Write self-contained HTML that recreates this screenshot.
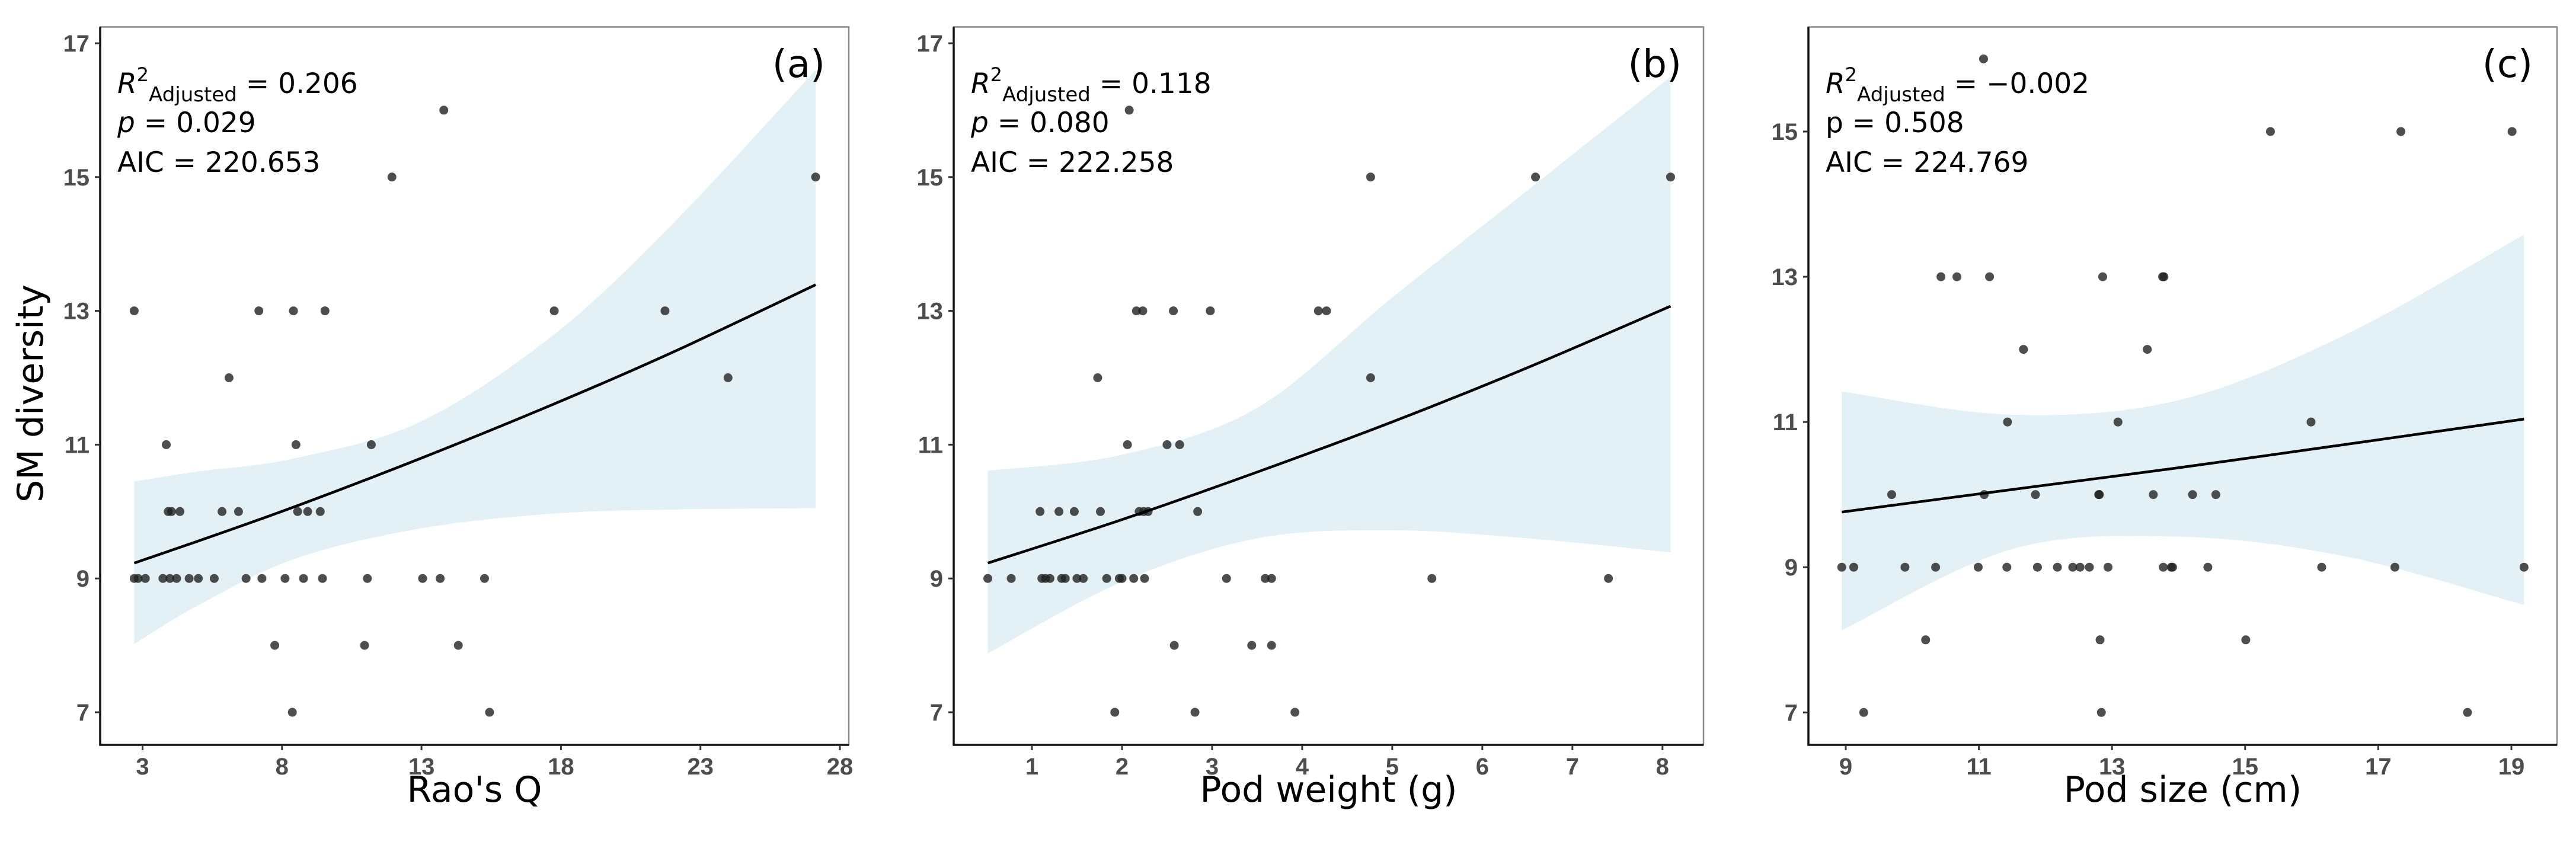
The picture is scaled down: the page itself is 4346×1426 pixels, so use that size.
<!DOCTYPE html>
<html><head><meta charset="utf-8"><style>
html,body{margin:0;padding:0;background:#fff}
svg{display:block}
.tick{font-family:"Liberation Sans",sans-serif;font-weight:bold;font-size:40px;fill:#4d4d4d}
.ttl{font-family:"DejaVu Sans",sans-serif;font-size:60px;fill:#000}
.ann{font-family:"DejaVu Sans",sans-serif;font-size:47px;fill:#000}
.lab{font-family:"DejaVu Sans",sans-serif;font-size:64px;fill:#000}
</style></head><body>
<svg id="fig" width="4346" height="1426" viewBox="0 0 4346 1426" xmlns="http://www.w3.org/2000/svg"></svg>
<script>
// ---- Panel (a) data ----
const aX=[2.7,7.17,8.41,9.54,17.76,21.73,13.8,11.94,27.13,6.1,23.99,3.85,8.5,11.2,3.92,4.04,4.34,5.85,6.44,8.56,8.92,9.37,2.7,2.84,3.1,3.73,3.98,4.22,4.67,5.0,5.57,6.71,7.28,8.11,8.77,9.45,11.06,13.04,13.67,15.26,7.74,10.96,14.32,8.37,15.44];
const aY=[13,13,13,13,13,13,16,15,15,12,12,11,11,11,10,10,10,10,10,10,10,10,9,9,9,9,9,9,9,9,9,9,9,9,9,9,9,9,9,9,8,8,8,7,7];
const aFitX=[2.7,5,8.5,13,17.76,22,27.13];
const aFitY=[9.23,9.56,10.08,10.80,11.61,12.38,13.39];
const aUp=[10.45,10.6,10.8,11.35,12.65,14.3,16.6];
const aLo=[8.02,8.6,9.3,9.75,9.97,10.03,10.05];
const aXTicks=[3,8,13,18,23,28];
const aYTicks=[7,9,11,13,15,17];
// ---- Panel (b) data ----
const bX=[2.08,4.76,6.59,8.09,2.16,2.23,2.57,2.98,4.18,4.27,1.73,4.76,2.06,2.5,2.64,1.09,1.30,1.47,1.76,2.19,2.24,2.29,2.84,0.51,0.77,1.11,1.15,1.2,1.33,1.37,1.5,1.57,1.83,1.97,2.0,2.13,2.25,3.16,3.59,3.66,5.44,7.40,2.58,3.44,3.66,1.92,2.81,3.92];
const bY=[16,15,15,15,13,13,13,13,13,13,12,12,11,11,11,10,10,10,10,10,10,10,10,9,9,9,9,9,9,9,9,9,9,9,9,9,9,9,9,9,9,9,8,8,8,7,7,7];
const bFitX=[0.51,2,3.5,5,6.5,8.09];
const bFitY=[9.23,9.88,10.59,11.34,12.15,13.07];
const bUp=[10.61,10.85,11.55,13.2,14.8,16.5];
const bLo=[7.88,8.95,9.6,9.72,9.6,9.39];
const bXTicks=[1,2,3,4,5,6,7,8];
const bYTicks=[7,9,11,13,15,17];
// ---- Panel (c) data ----
const cX=[11.07,15.38,17.34,19.01,10.43,10.67,11.16,12.86,13.76,13.78,11.67,13.53,11.43,13.09,15.99,9.69,11.08,11.85,12.8,12.81,13.62,14.21,14.56,8.94,9.12,9.89,10.35,10.99,11.42,11.88,12.18,12.41,12.52,12.66,12.94,13.77,13.89,13.91,14.44,16.15,17.25,19.19,10.2,12.82,15.01,9.27,12.84,18.34];
const cY=[16,15,15,15,13,13,13,13,13,13,12,12,11,11,11,10,10,10,10,10,10,10,10,9,9,9,9,9,9,9,9,9,9,9,9,9,9,9,9,9,9,9,8,8,8,7,7,7];
const cFitX=[8.94,11.5,14,16.5,19.19];
const cFitY=[9.76,10.07,10.37,10.69,11.04];
const cUp=[11.42,11.1,11.3,12.2,13.58];
const cLo=[8.13,9.25,9.42,9.15,8.48];
const cXTicks=[9,11,13,15,17,19];
const cYTicks=[7,9,11,13,15];

const NS="http://www.w3.org/2000/svg";
const svg=document.getElementById('fig');
function mk(tag,attrs,parent,txt){const e=document.createElementNS(NS,tag);for(const k in attrs)e.setAttribute(k,attrs[k]);if(txt!==undefined)e.textContent=txt;(parent||svg).appendChild(e);return e;}
function smooth(pts,start){
  let d=(start?'M':'L')+pts[0][0]+','+pts[0][1];
  for(let i=0;i<pts.length-1;i++){
    const p0=pts[Math.max(i-1,0)],p1=pts[i],p2=pts[i+1],p3=pts[Math.min(i+2,pts.length-1)];
    const c1=[p1[0]+(p2[0]-p0[0])/6,p1[1]+(p2[1]-p0[1])/6];
    const c2=[p2[0]-(p3[0]-p1[0])/6,p2[1]-(p3[1]-p1[1])/6];
    d+=' C'+c1[0]+','+c1[1]+' '+c2[0]+','+c2[1]+' '+p2[0]+','+p2[1];
  }
  return d;
}
function panel(cfg){
  const g=mk('g',{});
  
  
  const sx=v=>cfg.x0+(v-cfg.xv0)*cfg.xs;
  const sy=v=>cfg.y0-(v-cfg.yv0)*cfg.ys;
  const L=cfg.L,R=cfg.R,T=45.5,B=1257;
  const upP=cfg.fx.map((v,i)=>[sx(v),sy(cfg.up[i])]);
  const loP=cfg.fx.map((v,i)=>[sx(v),sy(cfg.lo[i])]).reverse();
  const band=mk('path',{d:smooth(upP,true)+' '+smooth(loP,false)+'Z',fill:'#e3f1f6'},g);
  
  
  cfg.px.forEach((v,i)=>{
    const c=mk('circle',{cx:sx(v),cy:sy(cfg.py[i]),r:7.5,fill:'#222','fill-opacity':0.8},g);
    
    
  });
  const ln=mk('path',{d:smooth(cfg.fx.map((v,i)=>[sx(v),sy(cfg.fy[i])]),true),fill:'none',stroke:'#000','stroke-width':4.5},g);
  
  
  mk('rect',{x:L,y:T,width:R-L,height:B-T,fill:'none',stroke:'#888','stroke-width':2.5},g);
  mk('path',{d:`M${L},${T} L${L},${B} L${R},${B}`,fill:'none',stroke:'#111','stroke-width':3.5},g);
  cfg.xt.forEach(v=>{
    mk('line',{x1:sx(v),x2:sx(v),y1:B,y2:B+9,stroke:'#333','stroke-width':3},g);
    const t=mk('text',{x:sx(v),y:1307,'text-anchor':'middle',class:'tick'},g,String(v));
    
    
  });
  cfg.yt.forEach(v=>{
    mk('line',{x1:L-9,x2:L,y1:sy(v),y2:sy(v),stroke:'#333','stroke-width':3},g);
    const t=mk('text',{x:L-18,y:sy(v)+14,'text-anchor':'end',class:'tick'},g,String(v));
    
    
  });
  const xt=mk('text',{x:(L+R)/2,y:1353,'text-anchor':'middle',class:'ttl'},g,cfg.xtitle);
  
  
  const lb=mk('text',{x:cfg.labX,y:130,'text-anchor':'end',class:'lab'},g,cfg.label);
  
  
  const ann=mk('g',{},g);
  
  
  const t1=mk('text',{x:L+29,y:157,class:'ann'},ann);
  mk('tspan',{'font-style':'italic'},t1,'R');
  mk('tspan',{dy:-20,'font-size':'32'},t1,'2');
  mk('tspan',{dy:34,'font-size':'34'},t1,'Adjusted');
  mk('tspan',{dy:-14},t1,' = '+cfg.r2);
  const t2=mk('text',{x:L+29,y:223,class:'ann'},ann);
  mk('tspan',{'font-style':cfg.pital?'italic':'normal'},t2,'p');
  mk('tspan',{},t2,' = '+cfg.p);
  mk('text',{x:L+29,y:290,class:'ann'},ann,'AIC = '+cfg.aic);
}
panel({id:'a',L:169,R:1432,x0:240.5,xv0:3,xs:47.06,y0:1202,yv0:7,ys:112.9,px:aX,py:aY,fx:aFitX,fy:aFitY,up:aUp,lo:aLo,xt:aXTicks,yt:aYTicks,xtitle:"Rao's Q",label:'(a)',labX:1392,r2:'0.206',p:'0.029',aic:'220.653',pital:true});
panel({id:'b',L:1609,R:2874,x0:1741,xv0:1,xs:151.97,y0:1202,yv0:7,ys:112.9,px:bX,py:bY,fx:bFitX,fy:bFitY,up:bUp,lo:bLo,xt:bXTicks,yt:bYTicks,xtitle:'Pod weight (g)',label:'(b)',labX:2837,r2:'0.118',p:'0.080',aic:'222.258',pital:true});
panel({id:'c',L:3051,R:4314,x0:3114,xv0:9,xs:112.3,y0:1202.3,yv0:7,ys:122.54,px:cX,py:cY,fx:cFitX,fy:cFitY,up:cUp,lo:cLo,xt:cXTicks,yt:cYTicks,xtitle:'Pod size (cm)',label:'(c)',labX:4273,r2:'\u22120.002',p:'0.508',aic:'224.769',pital:false});
const yt=mk('text',{x:0,y:0,transform:'translate(72,664) rotate(-90)','text-anchor':'middle',class:'ttl'},svg,'SM diversity');


</script>
</body></html>
